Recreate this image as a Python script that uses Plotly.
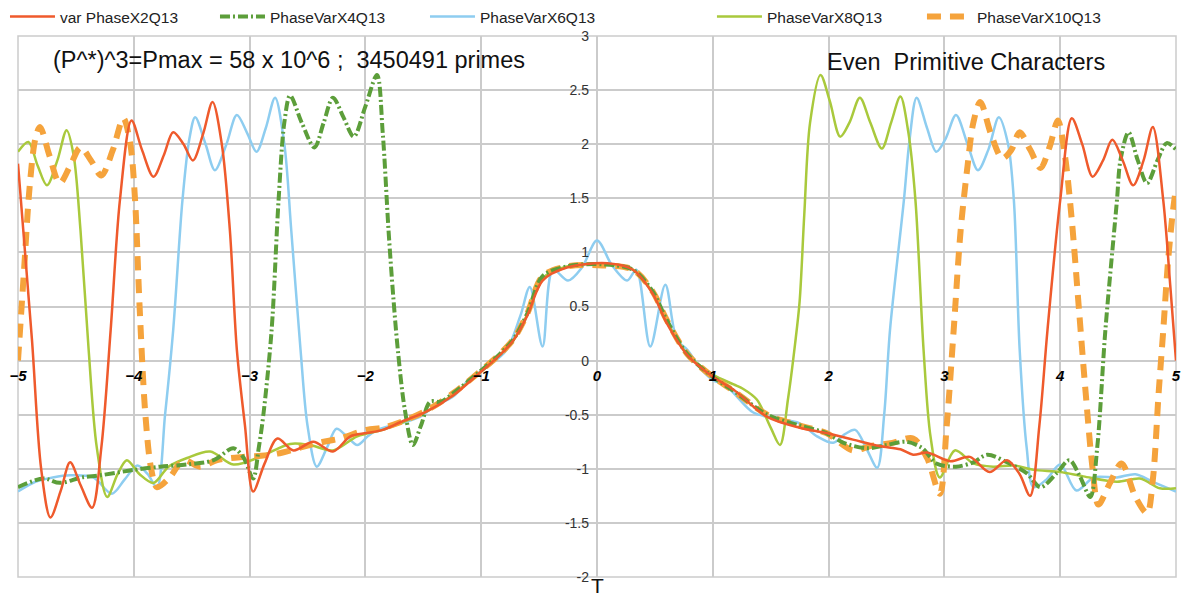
import plotly.graph_objects as go

# ---- series data: T values and phase values per series ----
t_x2 = [-5.0, -4.88, -4.80, -4.72, -4.63, -4.55, -4.46, -4.36, -4.28, -4.20, -4.12, -4.02, -3.93, -3.83,
        -3.74, -3.66, -3.57, -3.49, -3.40, -3.32, -3.24, -3.17, -3.11, -3.04, -2.97, -2.87, -2.76, -2.62,
        -2.45, -2.28, -2.13, -1.99, -1.85, -1.70, -1.47, -1.24, -1.01, -0.84, -0.72, -0.60, -0.47, -0.26,
        0.09, 0.31, 0.48, 0.60, 0.78, 1.00, 1.18, 1.47, 1.75, 1.98, 2.21, 2.44, 2.62, 2.73, 2.85, 3.05,
        3.22, 3.39, 3.54, 3.65, 3.74, 3.82, 3.89, 4.00, 4.10, 4.19, 4.28, 4.37, 4.45, 4.54, 4.63, 4.72,
        4.80, 4.89, 4.95, 5.0]
v_x2 = [1.82, 0.2, -1.0, -1.45, -1.2, -0.94, -1.15, -1.36, -0.8, 0.28, 1.48, 2.22, 1.95, 1.70,
        1.90, 2.11, 2.0, 1.85, 2.10, 2.39, 2.0, 1.2, 0.1, -0.6, -1.21, -0.95, -0.72, -0.83,
        -0.75, -0.84, -0.70, -0.67, -0.64, -0.57, -0.47, -0.32, -0.11, 0.05, 0.19, 0.42, 0.74, 0.86,
        0.90, 0.84, 0.62, 0.35, 0.05, -0.15, -0.27, -0.52, -0.62, -0.67, -0.73, -0.79, -0.82, -0.87, -0.85, -0.93,
        -0.89, -1.03, -0.92, -1.05, -1.25, -0.6, 0.28, 1.48, 2.24, 2.0, 1.70, 1.85, 2.04, 1.85, 1.62, 1.85,
        2.16, 1.48, 0.7, 0.0]

t_x4 = [-5.0, -4.78, -4.64, -4.45, -4.29, -4.0, -3.77, -3.54, -3.31, -3.14, -3.05, -2.97, -2.92, -2.88,
        -2.81, -2.75, -2.70, -2.65, -2.55, -2.44, -2.36, -2.28, -2.19, -2.10, -2.00, -1.90, -1.85, -1.80,
        -1.76, -1.72, -1.66, -1.59, -1.52, -1.44, -1.35, -1.24, -1.01, -0.84, -0.72, -0.60, -0.47, -0.26,
        0.05, 0.31, 0.48, 0.60, 0.78, 1.00, 1.18, 1.47, 1.75, 1.98, 2.13, 2.33, 2.50, 2.67, 2.81, 2.93,
        3.10, 3.25, 3.37, 3.54, 3.71, 3.83, 3.97, 4.08, 4.17, 4.26, 4.32, 4.39, 4.49, 4.52, 4.59, 4.67,
        4.75, 4.84, 4.92, 5.0]
v_x4 = [-1.17, -1.09, -1.13, -1.08, -1.06, -1.01, -0.98, -0.96, -0.92, -0.81, -0.9, -1.09, -0.8, -0.49,
        0.28, 1.48, 2.2, 2.45, 2.2, 1.97, 2.2, 2.43, 2.25, 2.07, 2.35, 2.64, 2.1, 1.2,
        0.6, 0.1, -0.45, -0.78, -0.6, -0.38, -0.38, -0.3, -0.1, 0.06, 0.2, 0.44, 0.78, 0.87,
        0.89, 0.84, 0.64, 0.38, 0.06, -0.15, -0.28, -0.5, -0.60, -0.67, -0.76, -0.81, -0.78, -0.75, -0.81, -0.95,
        -0.98, -0.94, -0.87, -0.94, -1.04, -1.17, -1.04, -0.92, -1.07, -1.26, -0.8, 0.28, 1.48, 1.85, 2.11, 1.85,
        1.64, 1.85, 2.01, 1.95]

t_x6 = [-5.0, -4.85, -4.70, -4.55, -4.35, -4.19, -4.08, -3.97, -3.88, -3.80, -3.73, -3.66, -3.58, -3.52,
        -3.47, -3.38, -3.30, -3.20, -3.11, -3.02, -2.94, -2.86, -2.78, -2.70, -2.64, -2.56, -2.50, -2.42,
        -2.33, -2.25, -2.16, -2.07, -1.98, -1.90, -1.70, -1.53, -1.40, -1.24, -1.10, -0.95, -0.78, -0.66,
        -0.58, -0.47, -0.38, -0.25, -0.13, 0.0, 0.13, 0.26, 0.34, 0.46, 0.59, 0.69, 0.78, 0.90, 1.00, 1.10,
        1.18, 1.35, 1.52, 1.75, 1.90, 2.04, 2.14, 2.23, 2.33, 2.42, 2.48, 2.53, 2.65, 2.70, 2.76, 2.85,
        2.93, 3.01, 3.10, 3.20, 3.29, 3.38, 3.47, 3.55, 3.60, 3.65, 3.71, 3.77, 3.88, 4.00, 4.14, 4.29,
        4.49, 4.65, 4.80, 5.0]
v_x6 = [-1.21, -1.12, -1.08, -1.06, -1.08, -1.23, -1.1, -0.97, -1.05, -1.17, -0.5, 0.28, 1.48, 2.05,
        2.25, 2.0, 1.76, 2.0, 2.27, 2.1, 1.93, 2.15, 2.43, 2.0, 1.2, 0.1, -0.6, -0.98,
        -0.8, -0.63, -0.7, -0.78, -0.7, -0.64, -0.58, -0.52, -0.42, -0.33, -0.17, -0.06, 0.10, 0.42,
        0.68, 0.13, 0.84, 0.74, 0.86, 1.11, 0.88, 0.74, 0.84, 0.13, 0.70, 0.19, 0.10, -0.08, -0.18, -0.22,
        -0.30, -0.48, -0.53, -0.58, -0.70, -0.76, -0.68, -0.64, -0.82, -0.99, -0.5, 0.28, 1.48, 2.05, 2.43, 2.15,
        1.93, 2.05, 2.27, 2.0, 1.76, 1.95, 2.25, 2.0, 1.48, 0.1, -0.8, -1.17, -1.10, -0.96, -1.20, -1.08,
        -1.08, -1.05, -1.12, -1.21]

t_x8 = [-5.0, -4.91, -4.83, -4.75, -4.66, -4.58, -4.52, -4.46, -4.39, -4.32, -4.23, -4.14, -4.06, -3.95,
        -3.83, -3.70, -3.54, -3.34, -3.14, -2.91, -2.65, -2.48, -2.28, -2.07, -1.85, -1.70, -1.47, -1.24,
        -1.01, -0.84, -0.72, -0.60, -0.47, -0.26, 0.05, 0.31, 0.48, 0.60, 0.78, 1.00, 1.18, 1.26, 1.38,
        1.50, 1.58, 1.65, 1.71, 1.75, 1.79, 1.84, 1.93, 2.01, 2.10, 2.18, 2.27, 2.36, 2.46, 2.54, 2.62,
        2.69, 2.75, 2.82, 2.88, 2.96, 3.09, 3.25, 3.42, 3.60, 3.77, 4.00, 4.20, 4.49, 4.69, 4.86, 5.0]
v_x8 = [1.93, 2.02, 1.8, 1.62, 1.85, 2.13, 1.9, 1.2, 0.1, -0.8, -1.26, -1.05, -0.92, -1.05,
        -1.13, -0.98, -0.90, -0.84, -0.96, -0.89, -0.77, -0.78, -0.83, -0.70, -0.64, -0.58, -0.47, -0.31,
        -0.11, 0.05, 0.19, 0.43, 0.76, 0.87, 0.89, 0.84, 0.63, 0.37, 0.06, -0.13, -0.22, -0.26, -0.36,
        -0.62, -0.78, -0.35, 0.15, 0.55, 1.35, 2.2, 2.64, 2.4, 2.07, 2.2, 2.43, 2.2, 1.96, 2.2, 2.44,
        2.1, 1.48, 0.1, -0.7, -1.08, -0.83, -0.95, -0.98, -0.97, -1.01, -1.03, -1.07, -1.12, -1.09, -1.18, -1.18]

t_x10 = [-5.0, -4.95, -4.90, -4.85, -4.81, -4.73, -4.64, -4.55, -4.46, -4.37, -4.28, -4.18, -4.09, -4.03,
         -3.99, -3.95, -3.90, -3.85, -3.80, -3.69, -3.57, -3.43, -3.28, -3.06, -2.90, -2.76, -2.55, -2.36,
         -2.22, -1.99, -1.85, -1.70, -1.47, -1.24, -1.01, -0.84, -0.72, -0.60, -0.47, -0.26, 0.05, 0.31,
         0.48, 0.60, 0.78, 1.00, 1.18, 1.47, 1.75, 1.98, 2.21, 2.36, 2.55, 2.73, 2.85, 2.96, 3.02, 3.08,
         3.14, 3.20, 3.25, 3.31, 3.40, 3.50, 3.58, 3.65, 3.74, 3.83, 3.91, 3.98, 4.04, 4.10, 4.16, 4.22,
         4.28, 4.33, 4.43, 4.53, 4.65, 4.75, 4.80, 4.85, 4.89, 4.93, 4.97, 5.0]
v_x10 = [0.0, 0.8, 1.6, 2.05, 2.16, 1.9, 1.64, 1.8, 1.97, 1.85, 1.71, 1.95, 2.24, 2.0,
         1.5, 0.5, -0.5, -1.0, -1.17, -1.08, -0.92, -0.98, -0.92, -0.89, -0.88, -0.86, -0.80, -0.75,
         -0.72, -0.64, -0.62, -0.57, -0.46, -0.30, -0.1, 0.06, 0.2, 0.44, 0.78, 0.87, 0.88, 0.84,
         0.64, 0.38, 0.06, -0.15, -0.28, -0.5, -0.60, -0.67, -0.83, -0.79, -0.76, -0.72, -0.9, -1.23, -0.6, 0.28,
         1.2, 1.8, 2.2, 2.39, 2.1, 1.87, 1.95, 2.11, 1.95, 1.78, 1.98, 2.22, 1.9, 1.3, 0.5, -0.3,
         -1.0, -1.33, -1.13, -0.95, -1.26, -1.41, -1.1, -0.3, 0.28, 0.9, 1.35, 1.6]

x_ticks = [-5, -4, -3, -2, -1, 0, 1, 2, 3, 4, 5]
y_ticks = [-2, -1.5, -1, -0.5, 0, 0.5, 1, 1.5, 2, 2.5, 3]
y_tick_text = ["-2", "-1.5", "-1", "-0.5", "0", "0.5", "1", "1.5", "2", "2.5", "3"]

FONT = "Liberation Sans, Arial, Helvetica, sans-serif"
GRID = "#cbcbcb"

fig = go.Figure()

# drawing order: lighter series first, red series on top
fig.add_trace(go.Scatter(x=t_x6, y=v_x6, name="PhaseVarX6Q13", mode="lines",
                         line=dict(color="#8ecdf0", width=2.5, shape="spline", smoothing=0.9),
                         legend="legend", legendrank=3))
fig.add_trace(go.Scatter(x=t_x8, y=v_x8, name="PhaseVarX8Q13", mode="lines",
                         line=dict(color="#a9c93c", width=2.5, shape="spline", smoothing=0.9),
                         legend="legend2", legendrank=4))
fig.add_trace(go.Scatter(x=t_x10, y=v_x10, name="PhaseVarX10Q13", mode="lines",
                         line=dict(color="#f5a33c", width=6, dash="14px,9px", shape="spline", smoothing=0.9),
                         legend="legend2", legendrank=5))
fig.add_trace(go.Scatter(x=t_x4, y=v_x4, name="PhaseVarX4Q13", mode="lines",
                         line=dict(color="#5c9e3a", width=4, dash="10px,3px,2px,3px", shape="spline", smoothing=0.9),
                         legend="legend", legendrank=2))
fig.add_trace(go.Scatter(x=t_x2, y=v_x2, name="var PhaseX2Q13", mode="lines",
                         line=dict(color="#ef5a2c", width=2.5, shape="spline", smoothing=0.9),
                         legend="legend", legendrank=1))

legend_common = dict(orientation="h", yanchor="top", xanchor="left", bgcolor="rgba(0,0,0,0)",
                     xref="container", yref="container",
                     font=dict(family=FONT, size=15.5, color="#222222"),
                     itemwidth=45, entrywidthmode="pixels", entrywidth=150, traceorder="normal")

fig.update_layout(
    width=1186, height=600,
    margin=dict(l=18, r=10, t=36, b=23, autoexpand=False),
    paper_bgcolor="white", plot_bgcolor="white",
    showlegend=True,
    legend=dict(x=0.0042, y=1.0, **legend_common),
    legend2=dict(x=0.6003, y=1.0, **legend_common),
    xaxis=dict(range=[-5, 5], tickvals=x_ticks, showgrid=True, gridcolor=GRID, gridwidth=1.5,
               zeroline=False, showline=False, ticks="", anchor="free", position=0.4,
               ticklabelstandoff=4,
               tickfont=dict(family=FONT, size=15, color="black", weight="bold", style="italic")),
    yaxis=dict(range=[-2, 3], tickvals=y_ticks, ticktext=y_tick_text, showgrid=True, gridcolor=GRID,
               gridwidth=1.5, zeroline=False, showline=False, ticks="", anchor="free", position=0.5,
               ticklabelstandoff=8,
               tickfont=dict(family=FONT, size=14, color="#333333")),
    annotations=[
        dict(text="(P^*)^3=Pmax = 58 x 10^6 ;  3450491 primes", xref="paper", yref="paper",
             x=0.0285, y=0.9556, xanchor="left", yanchor="middle", showarrow=False,
             font=dict(family=FONT, size=23.5, color="#111111")),
        dict(text="Even  Primitive Characters", xref="paper", yref="paper",
             x=0.6965, y=0.952, xanchor="left", yanchor="middle", showarrow=False,
             font=dict(family=FONT, size=23.5, color="#111111")),
        dict(text="T", xref="paper", yref="paper", x=0.5005, y=-0.0415, xanchor="center",
             yanchor="bottom", showarrow=False, font=dict(family=FONT, size=21, color="#111111")),
    ],
    shapes=[dict(type="rect", xref="paper", yref="paper", x0=0, y0=0, x1=1, y1=1,
                 line=dict(color=GRID, width=1.5), layer="below")],
)

fig.write_html("out.html")
